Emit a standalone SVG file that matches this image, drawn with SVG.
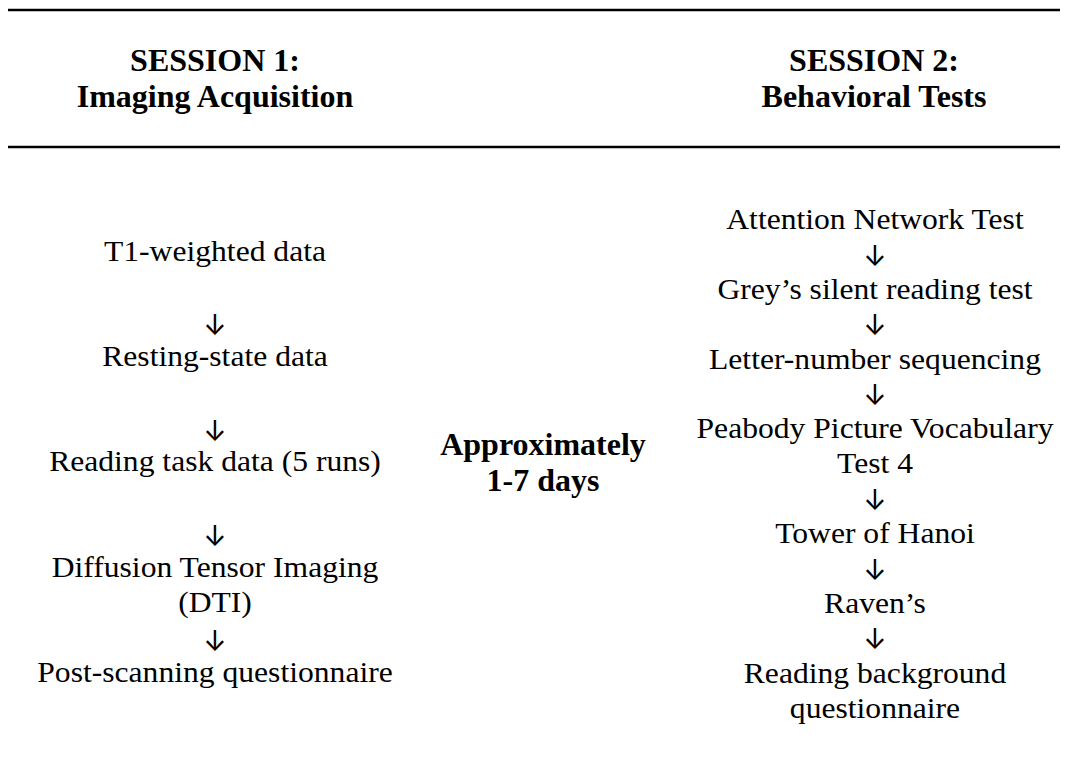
<svg xmlns="http://www.w3.org/2000/svg" width="1065" height="772" viewBox="0 0 1065 772">
<style>
.rule{stroke:#000;stroke-width:2.6}
.hd{font-family:"Liberation Serif","Times New Roman",serif;font-weight:bold;font-size:32px;text-anchor:middle;fill:#000}
.tx{font-family:"Liberation Serif","Times New Roman",serif;font-size:29px;text-anchor:middle;fill:#000}
.ar{font-family:Inter,"DejaVu Sans",sans-serif;font-size:28px;text-anchor:middle;fill:#000}
</style>
<rect width="1065" height="772" fill="#fff"/>
<line class="rule" x1="8" y1="10" x2="1060" y2="10"/>
<line class="rule" x1="8" y1="147" x2="1060" y2="147"/>
<g id="header1"><text class="hd" x="215" y="71">SESSION 1:</text><text class="hd" x="215" y="107">Imaging Acquisition</text></g>
<g id="header2"><text class="hd" x="874" y="71">SESSION 2:</text><text class="hd" x="874" y="107">Behavioral Tests</text></g>
<g id="gap"><text class="hd" x="543" y="455">Approximately</text><text class="hd" x="543" y="491">1-7 days</text></g>
<g transform="translate(215,0) scale(1.09,1)">
<g id="s1-t1"><text class="tx" x="0" y="261">T1-weighted data</text></g>
<g id="s1-rest"><text class="tx" x="0" y="366">Resting-state data</text></g>
<g id="s1-task"><text class="tx" x="0" y="471.5">Reading task data (5 runs)</text></g>
<g id="s1-dti"><text class="tx" x="0" y="577">Diffusion Tensor Imaging</text><text class="tx" x="0" y="612">(DTI)</text></g>
<g id="s1-post"><text class="tx" x="0" y="682">Post-scanning questionnaire</text></g>
</g>
<g transform="translate(875,0) scale(1.09,1)">
<g id="s2-ant"><text class="tx" x="0" y="229">Attention Network Test</text></g>
<g id="s2-grey"><text class="tx" x="0" y="298.8">Grey’s silent reading test</text></g>
<g id="s2-lns"><text class="tx" x="0" y="368.6">Letter-number sequencing</text></g>
<g id="s2-ppvt"><text class="tx" x="0" y="438.4">Peabody Picture Vocabulary</text><text class="tx" x="0" y="473.3">Test 4</text></g>
<g id="s2-toh"><text class="tx" x="0" y="543.1">Tower of Hanoi</text></g>
<g id="s2-raven"><text class="tx" x="0" y="612.9">Raven’s</text></g>
<g id="s2-rbq"><text class="tx" x="0" y="682.7">Reading background</text><text class="tx" x="0" y="717.6">questionnaire</text></g>
</g>
<g id="connectors">
<text class="ar" x="215" y="335">↓</text>
<text class="ar" x="215" y="440.5">↓</text>
<text class="ar" x="215" y="546">↓</text>
<text class="ar" x="215" y="651">↓</text>
<text class="ar" x="875" y="265.5">↓</text>
<text class="ar" x="875" y="335.3">↓</text>
<text class="ar" x="875" y="405.1">↓</text>
<text class="ar" x="875" y="509.8">↓</text>
<text class="ar" x="875" y="579.6">↓</text>
<text class="ar" x="875" y="649.4">↓</text>
</g>
</svg>
